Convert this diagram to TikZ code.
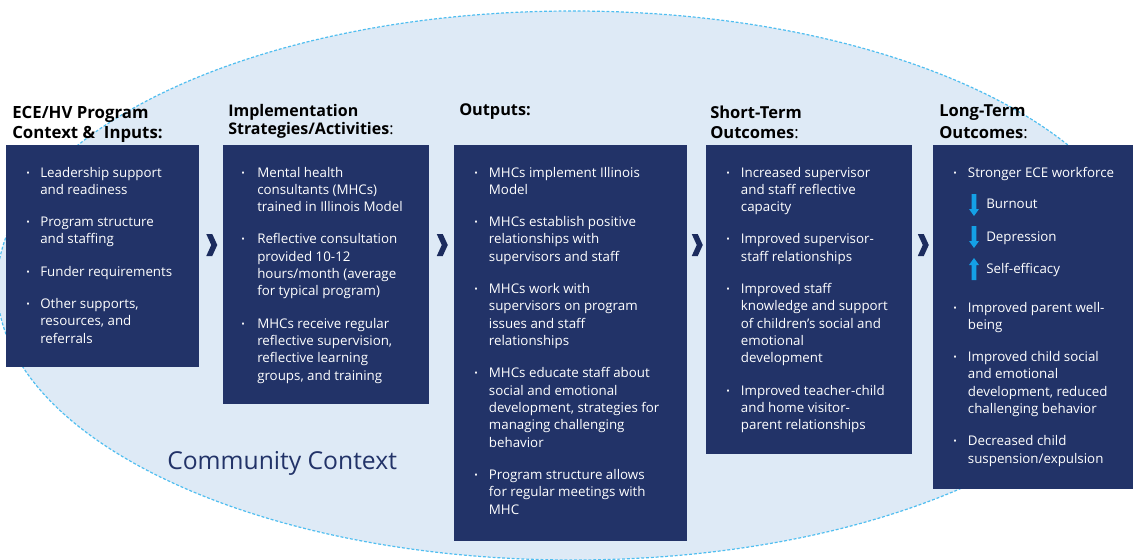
\documentclass[tikz,border=0pt]{standalone}
\usepackage{fontspec}
\setmainfont{Open Sans}
\usetikzlibrary{shapes.geometric,calc}
\definecolor{boxblue}{RGB}{34,51,104}
\definecolor{chevblue}{RGB}{28,44,94}
\definecolor{ctxfill}{RGB}{222,234,246}
\definecolor{ctxline}{RGB}{80,190,240}
\definecolor{arrblue}{RGB}{20,160,230}
\newcommand\bul{{\fontsize{7}{7}\selectfont\raisebox{0.7pt}{•}}}
\tikzset{
  box/.style={fill=boxblue, draw=none, anchor=north west, inner sep=0pt},
  txt/.style={anchor=base west, inner sep=0pt, text=white, font=\fontsize{10}{13}\selectfont},
  hdr/.style={anchor=base west, inner sep=0pt, text=black},
  chev/.pic={\fill[chevblue] (-5,-11) -- (1,-11) -- (6,0) -- (1,11) -- (-5,11) -- (0,0) -- cycle;},
  downarr/.pic={\fill[arrblue] (-2.3,-11) -- (2.3,-11) -- (2.3,4) -- (5,4) -- (0,11) -- (-5,4) -- (-2.3,4) -- cycle;}
}
\begin{document}
\begin{tikzpicture}[x=0.75pt,y=-0.75pt]
\useasboundingbox (0,0) rectangle (1133,560);
% community context ellipse
\node[ellipse, draw=ctxline, fill=ctxfill, line width=0.9pt, dash pattern=on 2.2pt off 1.4pt,
      minimum width={1152*0.75pt}, minimum height={549*0.75pt}, inner sep=0pt] (ctx) at (573,285.5) {};
\node[anchor=base west, inner sep=0pt, text=boxblue, font=\fontsize{18.5}{20}\selectfont] (cc) at (167,469) {Community Context};

% boxes
\node[box, minimum width={193*0.75pt}, minimum height={222*0.75pt}] (b1) at (6,145) {};
\node[box, minimum width={206*0.75pt}, minimum height={259*0.75pt}] (b2) at (223,145) {};
\node[box, minimum width={233*0.75pt}, minimum height={396*0.75pt}] (b3) at (454,145) {};
\node[box, minimum width={206*0.75pt}, minimum height={309*0.75pt}] (b4) at (706,145) {};
\node[box, minimum width={200*0.75pt}, minimum height={344*0.75pt}] (b5) at (933,145) {};

% headers
\node[hdr, font=\bfseries\fontsize{12.6}{15.75}\selectfont] (h1) at (12,118)
  {\begin{tabular}[t]{@{}l@{}}ECE/HV Program\\Context \&\ \ Inputs:\end{tabular}};
\node[hdr, font=\bfseries\fontsize{12}{12.9}\selectfont] (h2) at (228,117)
  {\begin{tabular}[t]{@{}l@{}}Implementation\\Strategies/Activities{\mdseries:}\end{tabular}};
\node[hdr, font=\bfseries\fontsize{12.2}{15.75}\selectfont] (h3) at (459,116) {Outputs:};
\node[hdr, font=\bfseries\fontsize{12.4}{15.75}\selectfont] (h4) at (710,118)
  {\begin{tabular}[t]{@{}l@{}}Short-Term\\Outcomes{\mdseries:}\end{tabular}};
\node[hdr, font=\bfseries\fontsize{12.4}{16.5}\selectfont] (h5) at (939,117)
  {\begin{tabular}[t]{@{}l@{}}Long-Term\\Outcomes{\mdseries:}\end{tabular}};

% box texts
\node[txt] (t1) at (26,177) {\begin{tabular}[t]{@{}p{10.5pt}@{}l@{}}
\bul & Leadership support\\ & and readiness\\[11.2pt]
\bul & Program structure\\ & and staffing\\[11.2pt]
\bul & Funder requirements\\[11.2pt]
\bul & Other supports,\\ & resources, and\\ & referrals
\end{tabular}};

\node[txt] (t2) at (241,177) {\begin{tabular}[t]{@{}p{12pt}@{}l@{}}
\bul & Mental health\\ & consultants (MHCs)\\ & trained in Illinois Model\\[11.2pt]
\bul & Reflective consultation\\ & provided 10-12\\ & hours/month (average\\ & for typical program)\\[11.2pt]
\bul & MHCs receive regular\\ & reflective supervision,\\ & reflective learning\\ & groups, and training
\end{tabular}};

\node[txt] (t3) at (474,177) {\begin{tabular}[t]{@{}p{11pt}@{}l@{}}
\bul & MHCs implement Illinois\\ & Model\\[11.2pt]
\bul & MHCs establish positive\\ & relationships with\\ & supervisors and staff\\[11.2pt]
\bul & MHCs work with\\ & supervisors on program\\ & issues and staff\\ & relationships\\[11.2pt]
\bul & MHCs educate staff about\\ & social and emotional\\ & development, strategies for\\ & managing challenging\\ & behavior\\[11.2pt]
\bul & Program structure allows\\ & for regular meetings with\\ & MHC
\end{tabular}};

\node[txt] (t4) at (726,177) {\begin{tabular}[t]{@{}p{11pt}@{}l@{}}
\bul & Increased supervisor\\ & and staff reflective\\ & capacity\\[11.2pt]
\bul & Improved supervisor-\\ & staff relationships\\[11.2pt]
\bul & Improved staff\\ & knowledge and support\\ & of children’s social and\\ & emotional\\ & development\\[11.2pt]
\bul & Improved teacher-child\\ & and home visitor-\\ & parent relationships
\end{tabular}};

\node[txt] (t5a) at (953,177) {\begin{tabular}[t]{@{}p{11pt}@{}l@{}}
\bul & Stronger ECE workforce
\end{tabular}};
\node[txt] (s1) at (986,209) {Burnout};
\node[txt] (s2) at (986,241) {Depression};
\node[txt] (s3) at (986,273) {Self-efficacy};
\pic at (974,205) {downarr};
\pic at (974,237) {downarr};
\pic[yscale=-1] at (974,269) {downarr};
\node[txt] (t5b) at (953,312) {\begin{tabular}[t]{@{}p{11pt}@{}l@{}}
\bul & Improved parent well-\\ & being\\[11.2pt]
\bul & Improved child social\\ & and emotional\\ & development, reduced\\ & challenging behavior\\[11.2pt]
\bul & Decreased child\\ & suspension/expulsion
\end{tabular}};

% chevrons between boxes
\coordinate (k1) at ($(b1.north east)!0.5!(b2.north west)+(0,100)$);
\coordinate (k2) at ($(b2.north east)!0.5!(b3.north west)+(0,100)$);
\coordinate (k3) at ($(b3.north east)!0.5!(b4.north west)+(0,100)$);
\coordinate (k4) at ($(b4.north east)!0.5!(b5.north west)+(0,100)$);
\pic at (k1) {chev};
\pic at (k2) {chev};
\pic at (k3) {chev};
\pic at (k4) {chev};
\end{tikzpicture}
\end{document}
